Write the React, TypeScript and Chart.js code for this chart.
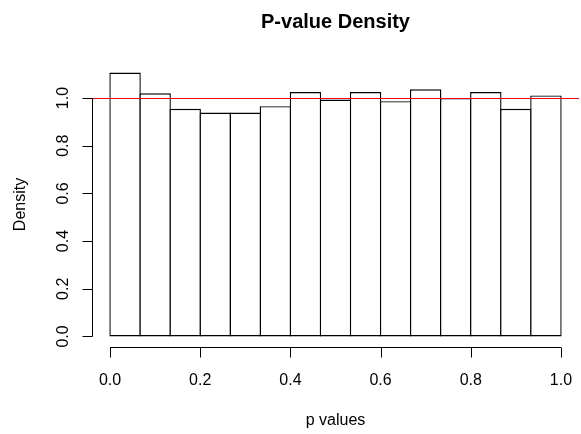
import React, { useEffect, useRef } from "react";
import { Chart, registerables } from "chart.js";

Chart.register(...registerables);

// Histogram of p values: 15 equal bins on [0, 1], heights as densities
const binMids = [0.03333, 0.1, 0.16667, 0.23333, 0.3, 0.36667, 0.43333, 0.5, 0.56667, 0.63333, 0.7, 0.76667, 0.83333, 0.9, 0.96667];
const density = [1.107, 1.02, 0.955, 0.939, 0.939, 0.966, 1.025, 0.994, 1.025, 0.987, 1.037, 1.0, 1.025, 0.955, 1.011];
const xTicks = [0, 0.2, 0.4, 0.6, 0.8, 1.0];
const yTicks = [0, 0.2, 0.4, 0.6, 0.8, 1.0];
const refDensity = 1;
const titleText = "P-value Density";
const xTitle = "p values";
const yTitle = "Density";

const FONT = '"Liberation Sans", Arial, Helvetica, sans-serif';

const baseAxesPlugin = {
  id: "baseAxes",
  afterDatasetsDraw(chart: any) {
    const { ctx, chartArea, scales } = chart;
    const xs = scales.x;
    const ys = scales.y;
    ctx.save();

    // reference line at density 1
    const yRef = Math.round(ys.getPixelForValue(refDensity)) + 0.5;
    ctx.strokeStyle = "#ff0000";
    ctx.lineWidth = 1;
    ctx.beginPath();
    ctx.moveTo(chartArea.left, yRef);
    ctx.lineTo(chartArea.right, yRef);
    ctx.stroke();

    ctx.strokeStyle = "#000";
    ctx.fillStyle = "#000";
    const tick = 10;

    // x axis
    const axY = Math.round(chartArea.bottom) + 0.5;
    ctx.beginPath();
    ctx.moveTo(xs.getPixelForValue(xTicks[0]), axY);
    ctx.lineTo(xs.getPixelForValue(xTicks[xTicks.length - 1]), axY);
    xTicks.forEach((v) => {
      const px = Math.round(xs.getPixelForValue(v)) + 0.5;
      ctx.moveTo(px, axY);
      ctx.lineTo(px, axY + tick);
    });
    ctx.stroke();
    ctx.font = `16px ${FONT}`;
    ctx.textAlign = "center";
    ctx.textBaseline = "alphabetic";
    xTicks.forEach((v) => {
      ctx.fillText(v.toFixed(1), xs.getPixelForValue(v), 385);
    });
    ctx.fillText(xTitle, (chartArea.left + chartArea.right) / 2, 425);

    // y axis
    const axX = Math.round(chartArea.left) + 0.5;
    ctx.beginPath();
    ctx.moveTo(axX, ys.getPixelForValue(yTicks[0]));
    ctx.lineTo(axX, ys.getPixelForValue(yTicks[yTicks.length - 1]));
    yTicks.forEach((v) => {
      const py = Math.round(ys.getPixelForValue(v)) + 0.5;
      ctx.moveTo(axX, py);
      ctx.lineTo(axX - tick, py);
    });
    ctx.stroke();
    yTicks.forEach((v) => {
      ctx.save();
      ctx.translate(68, ys.getPixelForValue(v));
      ctx.rotate(-Math.PI / 2);
      ctx.fillText(v.toFixed(1), 0, 0);
      ctx.restore();
    });
    ctx.save();
    ctx.translate(25, (chartArea.top + chartArea.bottom) / 2);
    ctx.rotate(-Math.PI / 2);
    ctx.fillText(yTitle, 0, 0);
    ctx.restore();

    // main title
    ctx.font = `bold 20px ${FONT}`;
    ctx.fillText(titleText, (chartArea.left + chartArea.right) / 2, 27.5);

    ctx.restore();
  },
};

export default function App() {
  const canvasRef = useRef<HTMLCanvasElement | null>(null);

  useEffect(() => {
    if (!canvasRef.current) return;
    const yMax = Math.max(...density);
    const chart = new Chart(canvasRef.current, {
      type: "bar",
      data: {
        datasets: [
          {
            data: binMids.map((x, i) => ({ x, y: density[i] })),
            backgroundColor: "#ffffff",
            borderColor: "#000000",
            borderWidth: 1.4,
            borderSkipped: false,
            // slightly wider than the bin so neighbouring outlines share one column
            barPercentage: 1.046,
            categoryPercentage: 1,
          } as any,
        ],
      },
      options: {
        responsive: false,
        animation: false,
        devicePixelRatio: 1,
        layout: { padding: { left: 92, right: 2, top: 62, bottom: 87 } },
        plugins: {
          legend: { display: false },
          tooltip: { enabled: false },
          title: { display: false },
        },
        scales: {
          x: { type: "linear", min: -0.04, max: 1.04, offset: false, display: false, grid: { offset: false } },
          y: { type: "linear", min: -0.04 * yMax, max: yMax * 1.04, display: false },
        },
      },
      plugins: [baseAxesPlugin],
    });
    return () => chart.destroy();
  }, []);

  return (
    <div style={{ position: "absolute", left: 0, top: 0, background: "#fff" }}>
      <canvas ref={canvasRef} width={581} height={434} style={{ display: "block" }} />
    </div>
  );
}
